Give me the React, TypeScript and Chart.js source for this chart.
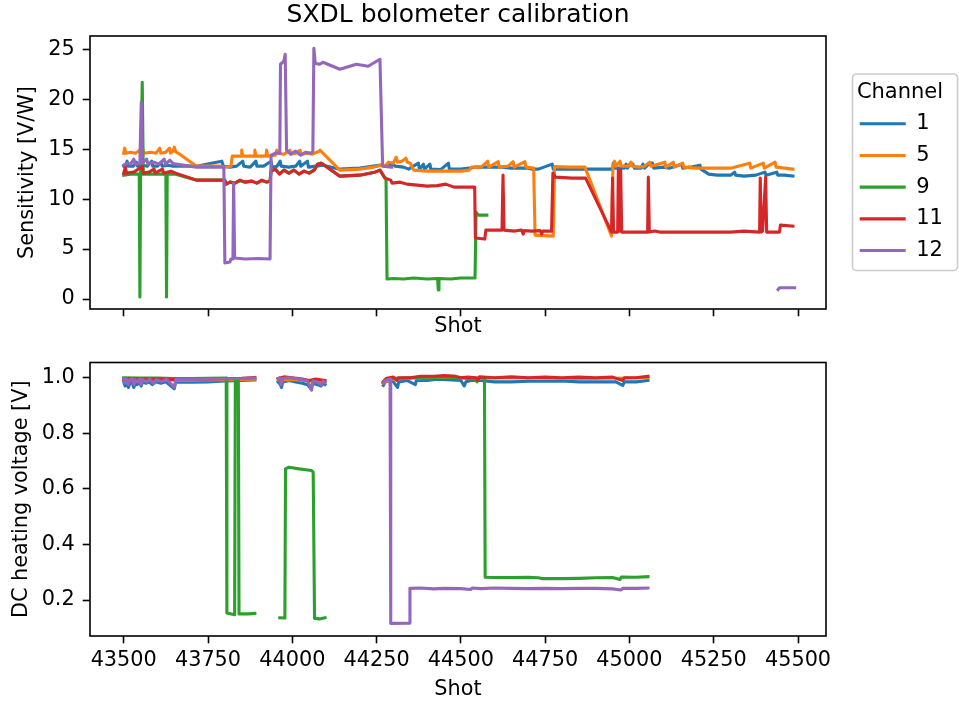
import React, { useEffect, useRef } from 'react';
import { Chart, registerables } from 'chart.js';

Chart.register(...registerables);

type Pt = [number, number | null];

const FONT = 'DejaVu Sans';
const FS = 20.8;

const channels = ['1', '5', '9', '11', '12'];
const colors = ['#1f77b4', '#ff7f0e', '#2ca02c', '#d62728', '#9467bd'];
const shotTicks = [43500, 43750, 44000, 44250, 44500, 44750, 45000, 45250, 45500];
const sensTicks = [0, 5, 10, 15, 20, 25];
const voltTicks = [0.2, 0.4, 0.6, 0.8, 1.0];

// ---- Sensitivity [V/W] per channel ----
const sens1: Pt[] = [
  [43500, 13.3], [43506, 13.4], [43510, 13.8], [43513, 13.3], [43528, 13.3], [43538, 13.7], [43541, 13.3],
  [43556, 13.4], [43570, 13.3], [43583, 13.8], [43586, 13.3], [43600, 13.3], [43611, 13.7], [43614, 13.3],
  [43632, 13.4], [43646, 13.3], [43716, 13.3], [43760, 13.6], [43791, 13.8], [43796, 13.3], [43815, 13.2],
  [43835, 13.3], [43853, 13.8], [43856, 13.3], [43875, 13.2], [43892, 13.8], [43895, 13.3], [43915, 13.3],
  [43937, 13.8], [43940, 13.2], [43955, 13.3], [43964, 13.8], [43967, 13.3], [43990, 13.2], [44010, 13.3],
  [44022, 13.8], [44025, 13.3], [44045, 13.8], [44048, 13.2], [44070, 13.3], [44091, 13.4], [44141, 13.0],
  [44200, 13.1], [44262, 13.4], [44280, 13.3], [44300, 13.5], [44305, 13.3], [44330, 13.2], [44345, 13.0],
  [44374, 13.6], [44377, 13.0], [44389, 13.5], [44392, 13.0], [44408, 13.5], [44411, 13.0], [44440, 12.95],
  [44463, 13.6], [44466, 13.0], [44500, 13.0], [44525, 13.1], [44540, 13.2], [44580, 13.2], [44620, 13.2],
  [44650, 13.1], [44700, 13.1], [44712, 13.0], [44730, 13.0], [44771, 13.5], [44774, 13.0], [44850, 13.0],
  [44950, 13.0], [44952, 13.6], [44956, 13.1], [44985, 13.1], [44990, 13.5], [44994, 13.1], [45003, 13.6],
  [45010, 13.5], [45015, 13.1], [45035, 13.1], [45040, 13.5], [45045, 13.1], [45060, 13.6], [45068, 13.6],
  [45072, 13.1], [45100, 13.2], [45120, 13.1], [45155, 13.5], [45158, 13.1], [45180, 13.2], [45209, 13.4],
  [45212, 13.0], [45235, 12.5], [45260, 12.4], [45300, 12.4], [45312, 12.7], [45315, 12.4], [45340, 12.3],
  [45375, 12.4], [45402, 12.7], [45405, 12.4], [45437, 12.7], [45440, 12.4], [45460, 12.4], [45485, 12.3],
];

const sens5: Pt[] = [
  [43500, 14.6], [43503, 15.1], [43506, 14.6], [43520, 14.7], [43535, 14.6], [43556, 15.1], [43559, 14.6],
  [43580, 14.7], [43596, 14.6], [43607, 15.1], [43610, 14.6], [43625, 14.7], [43636, 15.1], [43639, 14.6],
  [43646, 14.8], [43650, 15.2], [43655, 14.7], [43662, 14.6], [43716, 13.3], [43790, 13.3], [43800, 13.2],
  [43818, 13.3], [43822, 14.3], [43848, 14.3], [43850, 14.9], [43853, 14.3], [43887, 14.3], [43889, 14.9],
  [43892, 14.3], [43922, 14.3], [43924, 14.9], [43927, 14.3], [43950, 14.4], [43954, 14.9], [43958, 14.6],
  [43975, 14.5], [43993, 14.9], [43996, 14.5], [44010, 14.6], [44023, 14.9], [44026, 14.5], [44045, 14.6],
  [44060, 14.5], [44080, 14.8], [44082, 14.9], [44091, 14.6], [44141, 12.9], [44200, 13.0], [44240, 13.2],
  [44262, 13.4], [44275, 13.3], [44285, 13.7], [44300, 13.6], [44308, 14.2], [44312, 13.7], [44325, 13.8],
  [44337, 14.1], [44341, 13.7], [44350, 13.6], [44360, 12.9], [44400, 12.8], [44450, 12.8], [44500, 12.8],
  [44525, 12.9], [44532, 13.2], [44560, 13.2], [44580, 13.8], [44583, 13.2], [44611, 13.75], [44614, 13.2],
  [44640, 13.3], [44655, 13.75], [44658, 13.2], [44690, 13.75], [44693, 13.2], [44716, 13.1], [44720, 6.4],
  [44774, 6.3], [44778, 13.25], [44820, 13.2], [44868, 13.2], [44947, 6.3], [44951, 13.2], [44956, 13.8],
  [44960, 13.3], [44972, 13.8], [44975, 13.3], [45000, 13.3], [45005, 13.7], [45009, 13.3], [45030, 13.2],
  [45045, 13.3], [45060, 13.7], [45064, 13.3], [45105, 13.7], [45108, 13.2], [45130, 13.7], [45133, 13.2],
  [45158, 13.6], [45161, 13.2], [45200, 13.1], [45250, 13.1], [45300, 13.1], [45357, 13.6], [45360, 13.1],
  [45397, 13.6], [45400, 13.1], [45432, 13.7], [45435, 13.2], [45460, 13.1], [45485, 13.0],
];

const sens9: Pt[] = [
  [43500, 12.4], [43520, 12.5], [43546, 12.5], [43548, 0.2], [43550, 12.4], [43555, 21.7], [43558, 12.5],
  [43590, 12.5], [43625, 12.5], [43627, 0.2], [43629, 12.5], [43654, 12.5], [43716, 11.9], [43800, 11.9],
  [43804, 11.5], [43815, 11.7], [43830, 11.6], [43845, 11.85], [43860, 11.7], [43880, 11.8], [43895, 11.6],
  [43910, 11.85], [43925, 11.7], [43934, 11.8], [43937, 12.8], [43950, 13.0], [43962, 12.5], [43975, 12.9],
  [43990, 12.6], [44005, 12.9], [44020, 12.5], [44035, 12.8], [44050, 12.6], [44065, 12.9], [44075, 13.5],
  [44085, 13.6], [44091, 13.5], [44141, 12.3], [44200, 12.4], [44245, 12.7], [44260, 12.9], [44275, 12.1],
  [44278, 12.1], [44281, 2.0], [44300, 2.05], [44330, 2.0], [44360, 2.1], [44400, 2.0], [44431, 2.05],
  [44433, 0.9], [44435, 2.05], [44470, 2.0], [44500, 2.1], [44542, 2.1], [44545, 8.7], [44552, 8.4],
  [44577, 8.4], [44578, null],
];

const sens11: Pt[] = [
  [43500, 12.6], [43505, 13.2], [43508, 12.6], [43530, 12.7], [43555, 13.3], [43558, 12.6], [43575, 12.7],
  [43590, 13.0], [43593, 12.6], [43615, 13.0], [43618, 12.6], [43640, 12.8], [43654, 12.6], [43716, 11.9],
  [43800, 11.9], [43804, 11.5], [43815, 11.7], [43830, 11.6], [43845, 11.9], [43860, 11.7], [43880, 11.8],
  [43895, 11.6], [43910, 11.9], [43925, 11.7], [43934, 11.8], [43937, 12.8], [43950, 13.0], [43962, 12.5],
  [43975, 12.9], [43990, 12.6], [44005, 12.9], [44020, 12.5], [44035, 12.8], [44050, 12.6], [44065, 12.9],
  [44075, 13.5], [44085, 13.6], [44091, 13.5], [44141, 12.3], [44200, 12.4], [44245, 12.7], [44260, 12.9],
  [44275, 12.1], [44292, 11.9], [44296, 11.6], [44320, 11.7], [44340, 11.5], [44370, 11.4], [44400, 11.3],
  [44430, 11.35], [44455, 11.5], [44480, 11.2], [44541, 11.2], [44543, 6.1], [44571, 6.0], [44574, 6.9],
  [44622, 6.9], [44625, 12.4], [44628, 6.9], [44660, 6.8], [44680, 6.9], [44685, 6.5], [44688, 6.85],
  [44710, 6.8], [44735, 6.85], [44740, 6.5], [44743, 6.8], [44769, 6.8], [44773, 12.6], [44780, 12.2],
  [44830, 12.1], [44870, 12.1], [44947, 6.7], [44950, 12.1], [44953, 6.7], [44965, 6.7], [44967, 12.9],
  [44970, 6.8], [44974, 12.9], [44977, 6.7], [45000, 6.7], [45030, 6.7], [45054, 6.7], [45056, 12.2],
  [45059, 6.7], [45075, 6.8], [45090, 6.7], [45140, 6.7], [45200, 6.7], [45300, 6.7], [45340, 6.8],
  [45386, 6.7], [45388, 12.1], [45391, 6.7], [45395, 6.8], [45404, 12.2], [45407, 6.7], [45445, 6.7],
  [45448, 7.4], [45485, 7.3],
];

const sens12: Pt[] = [
  [43500, 13.4], [43510, 13.6], [43520, 13.5], [43530, 14.0], [43535, 13.5], [43548, 13.6], [43552, 19.7],
  [43555, 13.6], [43568, 14.0], [43572, 13.5], [43590, 13.7], [43605, 13.5], [43620, 14.0], [43624, 13.5],
  [43637, 13.9], [43645, 13.6], [43654, 13.5], [43716, 13.2], [43797, 13.2], [43800, 3.6], [43815, 3.7],
  [43818, 4.0], [43824, 4.0], [43826, 11.6], [43829, 4.1], [43860, 4.0], [43900, 4.05], [43934, 4.0],
  [43937, 14.4], [43950, 14.6], [43963, 14.6], [43965, 23.5], [43975, 23.8], [43979, 24.5], [43983, 14.9],
  [43995, 14.5], [44010, 14.8], [44025, 14.4], [44040, 14.7], [44057, 14.6], [44061, 14.8], [44064, 25.1],
  [44068, 23.6], [44080, 23.5], [44091, 23.7], [44141, 23.0], [44190, 23.5], [44225, 23.3], [44260, 24.0],
  [44268, 13.3], [44295, 13.2], [44297, null], [45441, 0.95], [45445, 1.12], [45490, 1.12],
];

// ---- DC heating voltage [V] per channel ----
const volt1: Pt[] = [
  [43500, 0.985], [43504, 0.97], [43508, 0.985], [43514, 0.965], [43518, 0.98], [43524, 0.985], [43530, 0.965],
  [43534, 0.98], [43540, 0.975], [43546, 0.985], [43552, 0.97], [43556, 0.985], [43566, 0.98], [43575, 0.985],
  [43585, 0.975], [43595, 0.985], [43610, 0.98], [43625, 0.985], [43650, 0.96], [43654, 0.985], [43700, 0.984],
  [43750, 0.985], [43800, 0.988], [43850, 0.99], [43889, 0.992], [43920, null],
  [43958, 0.985], [43965, 0.975], [43968, 0.965], [43972, 0.985], [43990, 0.99], [44010, 0.985], [44030, 0.98],
  [44045, 0.975], [44055, 0.96], [44060, 0.98], [44075, 0.975], [44085, 0.97], [44092, 0.98], [44097, 0.975],
  [44180, null],
  [44270, 0.972], [44276, 0.985], [44290, 0.99], [44300, 0.985], [44312, 0.965], [44316, 0.985], [44340, 0.99],
  [44365, 0.975], [44368, 0.99], [44400, 0.99], [44430, 0.995], [44460, 0.993], [44500, 0.99], [44510, 0.97],
  [44515, 0.985], [44530, 0.99], [44560, 0.99], [44600, 0.985], [44650, 0.985], [44700, 0.987], [44750, 0.987],
  [44800, 0.988], [44850, 0.985], [44900, 0.985], [44960, 0.985], [44980, 0.972], [44985, 0.985], [45020, 0.985],
  [45055, 0.99],
];

const volt5: Pt[] = [
  [43500, 0.993], [43560, 0.992], [43620, 0.991], [43700, 0.991], [43800, 0.993], [43889, 0.995], [43920, null],
  [43958, 0.993], [44000, 0.994], [44050, 0.988], [44097, 0.986], [44180, null],
  [44270, 0.98], [44290, 0.995], [44350, 0.998], [44450, 1.002], [44550, 0.998], [44650, 1.0], [44750, 0.998],
  [44850, 0.997], [44950, 0.998], [45055, 1.0],
];

const volt9: Pt[] = [
  [43500, 1.0], [43550, 0.999], [43600, 0.999], [43650, 0.997], [43700, 0.997], [43750, 0.998], [43804, 0.999],
  [43806, 0.153], [43829, 0.147], [43831, 0.99], [43840, 0.99], [43842, 0.15], [43870, 0.15], [43889, 0.152],
  [43920, null],
  [43963, 0.136], [43978, 0.135], [43980, 0.672], [43990, 0.678], [44000, 0.676], [44020, 0.672], [44040, 0.669],
  [44057, 0.666], [44062, 0.66], [44066, 0.134], [44080, 0.132], [44097, 0.136], [44180, null],
  [44270, 0.985], [44276, 0.995], [44300, 0.998], [44350, 1.0], [44400, 1.002], [44450, 1.003], [44500, 1.0],
  [44545, 0.995], [44548, 0.985], [44551, 1.0], [44570, 1.0], [44572, 0.282], [44600, 0.281], [44650, 0.281],
  [44700, 0.282], [44730, 0.28], [44740, 0.277], [44800, 0.277], [44850, 0.278], [44900, 0.28], [44950, 0.281],
  [44972, 0.274], [44976, 0.283], [45020, 0.282], [45055, 0.284],
];

const volt11: Pt[] = [
  [43500, 0.995], [43520, 0.996], [43550, 0.995], [43600, 0.995], [43650, 0.994], [43700, 0.994], [43750, 0.995],
  [43800, 0.997], [43850, 0.998], [43889, 1.001], [43920, null],
  [43958, 0.997], [43975, 1.003], [44000, 1.0], [44030, 0.995], [44050, 0.99], [44070, 0.995], [44097, 0.99],
  [44180, null],
  [44270, 0.985], [44280, 0.998], [44300, 1.002], [44310, 0.99], [44315, 1.0], [44350, 1.0], [44380, 1.005],
  [44420, 1.005], [44450, 1.008], [44480, 1.006], [44500, 1.0], [44520, 1.002], [44545, 1.0], [44550, 0.99],
  [44555, 1.003], [44600, 1.0], [44650, 1.003], [44700, 1.0], [44750, 1.002], [44800, 1.0], [44850, 1.002],
  [44900, 1.0], [44950, 1.002], [44980, 0.99], [44985, 1.0], [45020, 1.0], [45055, 1.005],
];

const volt12: Pt[] = [
  [43500, 0.996], [43504, 0.98], [43508, 0.996], [43514, 0.975], [43518, 0.993], [43526, 0.996], [43530, 0.975],
  [43535, 0.993], [43542, 0.985], [43548, 0.996], [43552, 0.975], [43557, 0.993], [43568, 0.985], [43577, 0.996],
  [43587, 0.98], [43597, 0.993], [43612, 0.986], [43627, 0.994], [43650, 0.965], [43655, 0.994], [43700, 0.994],
  [43750, 0.995], [43800, 0.996], [43850, 0.997], [43889, 0.999], [43920, null],
  [43958, 0.996], [43963, 1.0], [43967, 0.975], [43972, 0.997], [43990, 1.0], [44010, 0.997], [44030, 0.993],
  [44045, 0.988], [44052, 0.97], [44057, 0.955], [44062, 0.988], [44075, 0.983], [44085, 0.975], [44092, 0.988],
  [44097, 0.982], [44180, null],
  [44270, 0.98], [44276, 0.99], [44290, 0.995], [44292, 0.116], [44347, 0.117], [44349, 0.242], [44380, 0.243],
  [44420, 0.24], [44450, 0.242], [44500, 0.241], [44530, 0.238], [44533, 0.243], [44560, 0.241], [44600, 0.243],
  [44650, 0.242], [44700, 0.241], [44750, 0.242], [44800, 0.241], [44850, 0.242], [44900, 0.242], [44950, 0.24],
  [44975, 0.236], [44980, 0.242], [45020, 0.242], [45055, 0.243],
];

const sensSeries = [sens1, sens5, sens9, sens11, sens12];
const voltSeries = [volt1, volt5, volt9, volt11, volt12];

const toXY = (arr: Pt[]) => arr.map(([x, y]) => ({ x, y }));

// later channels drawn on top (like matplotlib): lower `order` is drawn last
const makeDatasets = (series: Pt[][]) =>
  series.map((s, i) => ({
    label: channels[i],
    data: toXY(s),
    order: series.length - i,
    borderColor: colors[i],
    backgroundColor: colors[i],
    borderWidth: 3.1,
    pointRadius: 0,
    pointHoverRadius: 0,
    fill: false,
    tension: 0,
    spanGaps: false,
    borderCapStyle: 'square',
    borderJoinStyle: 'round',
    clip: 0,
  }));

const framePlugin = {
  id: 'frame',
  afterDatasetsDraw(chart: any) {
    const { ctx, chartArea: a } = chart;
    ctx.save();
    ctx.strokeStyle = '#000';
    ctx.lineWidth = 1.6;
    ctx.strokeRect(a.left, a.top, a.right - a.left, a.bottom - a.top);
    ctx.restore();
  },
};

const legendFramePlugin = {
  id: 'legendFrame',
  afterDraw(chart: any) {
    const { ctx, chartArea: a } = chart;
    const x0 = a.right + 26.5;
    const x1 = chart.width - 1.5;
    const y0 = a.top + 38;
    const y1 = a.bottom - 38.5;
    const r = 4;
    ctx.save();
    ctx.strokeStyle = '#cccccc';
    ctx.lineWidth = 1.6;
    ctx.beginPath();
    ctx.moveTo(x0 + r, y0);
    ctx.arcTo(x1, y0, x1, y1, r);
    ctx.arcTo(x1, y1, x0, y1, r);
    ctx.arcTo(x0, y1, x0, y0, r);
    ctx.arcTo(x0, y0, x1, y0, r);
    ctx.closePath();
    ctx.stroke();
    ctx.restore();
  },
};

const tickGrid = {
  display: true,
  drawOnChartArea: false,
  drawTicks: true,
  tickLength: 7.3,
  tickWidth: 1.6,
  tickColor: '#000',
};

const font = (size: number, lineHeight = 1.2) => ({ family: FONT, size, weight: 'normal' as const, lineHeight });

const xScale = (showLabels: boolean, titlePadBottom: number, titleLH: number, height: number) => ({
  type: 'linear',
  position: 'bottom',
  min: 43400,
  max: 45583,
  afterBuildTicks: (s: any) => {
    s.ticks = shotTicks.map((v) => ({ value: v }));
  },
  afterFit: (s: any) => {
    s.height = height;
  },
  grid: tickGrid,
  border: { display: false },
  ticks: {
    display: showLabels,
    color: '#000',
    font: font(FS),
    padding: 5.3,
    maxRotation: 0,
    autoSkip: false,
    callback: (v: any) => String(v),
  },
  title: {
    display: true,
    text: 'Shot',
    color: '#000',
    font: font(FS, titleLH),
    padding: { top: 0, bottom: titlePadBottom },
  },
});

const yScale = (min: number, max: number, ticks: number[], label: string, titleOffset: number, digits: number) => ({
  type: 'linear',
  position: 'left',
  min,
  max,
  afterBuildTicks: (s: any) => {
    s.ticks = ticks.map((v) => ({ value: v }));
  },
  afterFit: (s: any) => {
    s.width = 90;
  },
  grid: tickGrid,
  border: { display: false },
  ticks: {
    color: '#000',
    font: font(FS),
    padding: 8,
    autoSkip: false,
    callback: (v: any) => Number(v).toFixed(digits),
  },
  title: {
    display: true,
    text: label,
    color: '#000',
    font: font(FS),
    padding: { top: titleOffset, bottom: 0 },
  },
});

export default function App() {
  const topRef = useRef<HTMLCanvasElement>(null);
  const botRef = useRef<HTMLCanvasElement>(null);

  useEffect(() => {
    document.body.style.margin = '0';
    Chart.defaults.font.family = FONT;
    Chart.defaults.color = '#000';

    const top = new Chart(topRef.current as HTMLCanvasElement, {
      type: 'line',
      data: { datasets: makeDatasets(sensSeries) as any },
      options: {
        animation: false,
        responsive: false,
        maintainAspectRatio: false,
        devicePixelRatio: 1,
        events: [],
        layout: { padding: { left: 0, top: 0, right: 8, bottom: 0 } },
        scales: {
          x: xScale(false, 1.2, 1.2, 31) as any,
          y: yScale(-1.0, 26.33, sensTicks, 'Sensitivity [V/W]', 15, 0) as any,
          yR: {
            type: 'linear',
            position: 'right',
            display: true,
            grid: { display: false },
            border: { display: false },
            ticks: { display: false },
            afterFit: (s: any) => {
              s.width = 23;
            },
          } as any,
        },
        plugins: {
          tooltip: { enabled: false },
          title: {
            display: true,
            text: 'SXDL bolometer calibration',
            color: '#000',
            fullSize: false,
            font: font(25, 1.2),
            padding: { top: 0, bottom: 6 },
          },
          legend: {
            display: true,
            position: 'right',
            align: 'center',
            fullSize: false,
            maxWidth: 102,
            title: {
              display: true,
              text: 'Channel',
              color: '#000',
              font: font(21, 1),
              padding: { top: 8.3, bottom: 0 },
            },
            labels: {
              usePointStyle: true,
              pointStyle: 'line',
              pointStyleWidth: 46,
              boxHeight: 21,
              color: '#000',
              font: font(21),
              padding: 10.7,
              sort: (a: any, b: any) => a.datasetIndex - b.datasetIndex,
            },
          } as any,
        },
      },
      plugins: [framePlugin, legendFramePlugin],
    });

    const bottom = new Chart(botRef.current as HTMLCanvasElement, {
      type: 'line',
      data: { datasets: makeDatasets(voltSeries) as any },
      options: {
        animation: false,
        responsive: false,
        maintainAspectRatio: false,
        devicePixelRatio: 1,
        events: [],
        layout: { padding: { left: 0, top: 22.5, right: 133, bottom: 0 } },
        scales: {
          x: xScale(true, 1.6, 1, 66) as any,
          y: yScale(0.0705, 1.0547, voltTicks, 'DC heating voltage [V]', 8.8, 1) as any,
        },
        plugins: {
          tooltip: { enabled: false },
          legend: { display: false },
          title: { display: false },
        },
      },
      plugins: [framePlugin],
    });

    return () => {
      top.destroy();
      bottom.destroy();
    };
  }, []);

  return (
    <div style={{ position: 'relative', width: 959, height: 702, background: '#fff' }}>
      <canvas ref={topRef} width={959} height={340} style={{ position: 'absolute', left: 0, top: 0 }} />
      <canvas ref={botRef} width={959} height={362} style={{ position: 'absolute', left: 0, top: 340 }} />
    </div>
  );
}
